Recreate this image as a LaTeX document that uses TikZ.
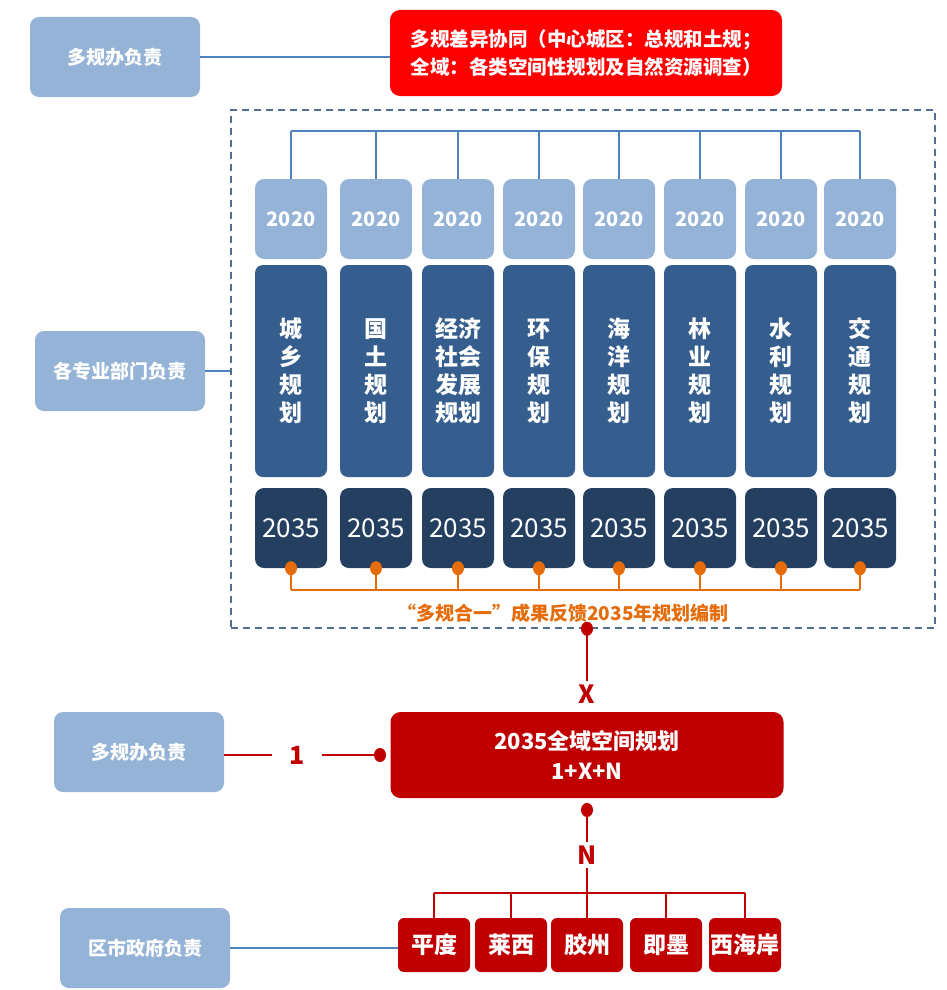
\documentclass[tikz,border=0pt]{standalone}
\usepackage{fontspec}
\setmainfont{Noto Sans CJK SC}
\usetikzlibrary{calc}
\definecolor{lightblue}{RGB}{149,179,215}
\definecolor{midblue}{RGB}{53,94,142}
\definecolor{navy}{RGB}{36,63,96}
\definecolor{linkblue}{RGB}{79,129,189}
\definecolor{frameblue}{RGB}{84,110,145}
\definecolor{orangeline}{RGB}{228,108,10}
\definecolor{darkred}{RGB}{192,0,0}

\begin{document}
\begin{tikzpicture}[x=1pt, y=-1pt, font=\bfseries,
  resp/.style={fill=lightblue, rounded corners=9pt, minimum width=170pt, minimum height=80pt, text=white, font=\fontsize{19}{21}\selectfont\bfseries},
  yearbox/.style={fill=lightblue, rounded corners=9pt, minimum width=72pt, minimum height=80pt, text=white, font=\fontsize{20}{22}\selectfont\bfseries},
  planbox/.style={fill=midblue, rounded corners=8pt, minimum width=72pt, minimum height=212pt, text=white, align=center, font=\fontsize{23}{28}\selectfont\bfseries},
  endbox/.style={fill=navy, rounded corners=9pt, minimum width=72pt, minimum height=80pt, text=white, font=\fontsize{26}{28}\selectfont},
  citybox/.style={fill=darkred, rounded corners=6pt, minimum width=72pt, minimum height=54pt, text=white, inner sep=0pt, font=\fontsize{23}{25}\selectfont\bfseries},
  bluelink/.style={draw=linkblue, line width=2pt},
  redlink/.style={draw=darkred, line width=2.5pt},
  redlabel/.style={text=darkred, font=\fontsize{25}{27}\selectfont\bfseries}]
  \useasboundingbox (0,0) rectangle (947,990);
  % top: coordination of the plans
  \node[resp] (resp1) at (115,57) {多规办负责};
  \node[fill=red, rounded corners=10pt, minimum width=392pt, minimum height=86pt, text=white, align=center, font=\fontsize{19.5}{28}\selectfont\bfseries] (coord) at (586,53) {多规差异协同（中心城区：总规和土规；\\全域：各类空间性规划及自然资源调查）};
  \draw[bluelink] (resp1.east) -- (resp1.east -| coord.west);
  % dashed frame with the eight departmental plans
  \node[draw=frameblue, dashed, dash pattern=on 7pt off 5pt, line width=1.5pt, minimum width=704pt, minimum height=518pt] (frame) at (583,369) {};
  \node[resp] (resp2) at (120,371) {各专业部门负责};
  \draw[bluelink] (resp2.east) -- (resp2.east -| frame.west);
  \coordinate (topbar) at (0,131);
  \coordinate (orangebar) at (0,590);
  \foreach \i/\cx/\plan in {1/291/{城\\乡\\规\\划}, 2/376/{国\\土\\规\\划}, 3/458/{经济\\社会\\发展\\规划}, 4/539/{环\\保\\规\\划}, 5/619/{海\\洋\\规\\划}, 6/700/{林\\业\\规\\划}, 7/781/{水\\利\\规\\划}, 8/860/{交\\通\\规\\划}}{
    \node[yearbox] (y\i) at (\cx,219) {2020};
    \node[planbox] (p\i) at (\cx,371) {\plan};
    \node[endbox] (f\i) at (\cx,528) {2035};
    \draw[bluelink] (y\i.north) -- (y\i.north |- topbar);
    \draw[orangeline, line width=2pt] (f\i.south) -- (f\i.south |- orangebar);
    \fill[orangeline] (f\i.south) ellipse (6pt and 7pt);}
  \draw[bluelink] (y1.north |- topbar) -- (y8.north |- topbar);
  \draw[orangeline, line width=2pt] (f1.south |- orangebar) -- (f8.south |- orangebar);
  \node[text=orangeline, font=\fontsize{19}{21}\selectfont\bfseries] (feedback) at (563,613) {“多规合一”成果反馈2035年规划编制};
  % 1 + X + N
  \node[fill=darkred, rounded corners=10pt, minimum width=393pt, minimum height=86pt, text=white, align=center, font=\fontsize{22}{30}\selectfont\bfseries] (main) at (587,755) {2035全域空间规划\\1+X+N};
  \coordinate (topdot) at (frame.south -| main.north);
  \node[redlabel] (xlab) at (587,694) {X};
  \draw[redlink] (topdot) -- (xlab.north);
  \fill[darkred] (topdot) ellipse (6pt and 7pt);
  \node[resp] (resp3) at (139,752) {多规办负责};
  \node[redlabel, inner xsep=17pt] (onelab) at (297,755) {1};
  \coordinate (leftdot) at (380,755);
  \draw[redlink] (resp3.east |- onelab) -- (onelab.west);
  \draw[redlink] (onelab.east) -- (leftdot);
  \fill[darkred] (leftdot) ellipse (6pt and 7pt);
  \coordinate (botdot) at (587,810);
  \node[redlabel] (nlab) at (587,855) {N};
  \draw[redlink] (botdot) -- (nlab.north);
  \fill[darkred] (botdot) ellipse (6pt and 7pt);
  % districts
  \coordinate (citybar) at (0,893);
  \foreach \j/\cx/\city in {1/434/平度, 2/511/莱西, 3/587/胶州, 4/666/即墨, 5/745/西海岸}{
    \node[citybox] (c\j) at (\cx,945) {\city};
    \draw[redlink] (c\j.north) -- (c\j.north |- citybar);}
  \draw[redlink] (c1.north |- citybar) -- (c5.north |- citybar);
  \draw[redlink] (nlab.south) -- (c3.north);
  \node[resp] (resp4) at (145,948) {区市政府负责};
  \draw[bluelink] (resp4.east) -- (resp4.east -| c1.west);
\end{tikzpicture}
\end{document}
